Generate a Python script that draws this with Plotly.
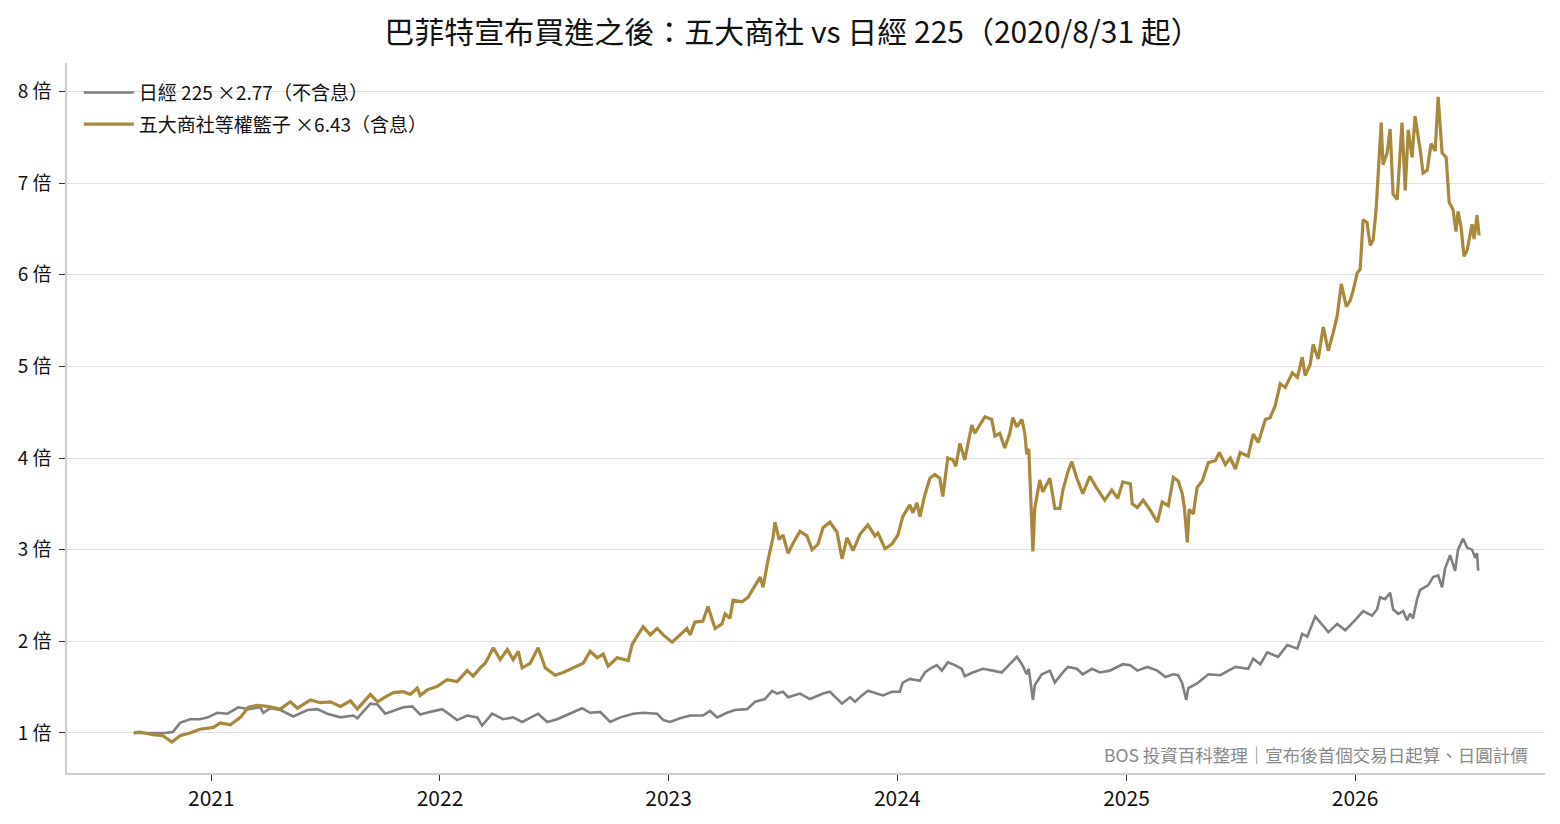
import pandas as pd
import plotly.graph_objects as go

# ---- data (decimal years) ----
nikkei_t = [2020.663, 2020.733, 2020.799, 2020.834, 2020.865, 2020.908, 2020.952, 2020.987,
            2021.026, 2021.070, 2021.118, 2021.162, 2021.214, 2021.227, 2021.258, 2021.302,
            2021.358, 2021.420, 2021.463, 2021.507, 2021.564, 2021.621, 2021.638, 2021.695,
            2021.726, 2021.760, 2021.795, 2021.839, 2021.878, 2021.913, 2021.957, 2022.010,
            2022.075, 2022.119, 2022.163, 2022.184, 2022.228, 2022.276, 2022.320, 2022.359,
            2022.429, 2022.469, 2022.512, 2022.556, 2022.621, 2022.656, 2022.700, 2022.744,
            2022.788, 2022.844, 2022.888, 2022.949, 2022.976, 2023.006, 2023.050, 2023.094,
            2023.150, 2023.181, 2023.212, 2023.255, 2023.290, 2023.343, 2023.378, 2023.421,
            2023.452, 2023.474, 2023.500, 2023.522, 2023.574, 2023.618, 2023.675, 2023.705,
            2023.758, 2023.793, 2023.815, 2023.845, 2023.871, 2023.937, 2023.976, 2024.011,
            2024.024, 2024.055, 2024.099, 2024.121, 2024.143, 2024.173, 2024.195, 2024.221,
            2024.252, 2024.282, 2024.295, 2024.330, 2024.374, 2024.418, 2024.457, 2024.492,
            2024.523, 2024.545, 2024.566, 2024.575, 2024.593, 2024.601, 2024.632, 2024.667,
            2024.689, 2024.724, 2024.746, 2024.785, 2024.811, 2024.851, 2024.886, 2024.929,
            2024.960, 2024.986, 2025.017, 2025.047, 2025.091, 2025.135, 2025.170, 2025.205,
            2025.226, 2025.244, 2025.261, 2025.270, 2025.309, 2025.358, 2025.410, 2025.476,
            2025.532, 2025.554, 2025.585, 2025.615, 2025.663, 2025.703, 2025.747, 2025.768,
            2025.790, 2025.825, 2025.856, 2025.882, 2025.921, 2025.956, 2026.000, 2026.035,
            2026.074, 2026.096, 2026.109, 2026.131, 2026.153, 2026.166, 2026.188, 2026.210,
            2026.227, 2026.240, 2026.253, 2026.271, 2026.284, 2026.306, 2026.319, 2026.341,
            2026.363, 2026.380, 2026.393, 2026.415, 2026.437, 2026.450, 2026.472, 2026.490,
            2026.511, 2026.525, 2026.533, 2026.538]
nikkei_v = [1.00, 1.00, 1.00, 1.01, 1.11, 1.15, 1.15, 1.17,
            1.22, 1.21, 1.28, 1.26, 1.28, 1.22, 1.27, 1.25,
            1.18, 1.25, 1.26, 1.21, 1.17, 1.19, 1.16, 1.32,
            1.31, 1.21, 1.24, 1.28, 1.29, 1.20, 1.23, 1.26,
            1.14, 1.19, 1.17, 1.08, 1.21, 1.15, 1.17, 1.12,
            1.21, 1.12, 1.15, 1.20, 1.27, 1.22, 1.23, 1.12,
            1.17, 1.21, 1.22, 1.21, 1.14, 1.12, 1.16, 1.19,
            1.19, 1.24, 1.17, 1.22, 1.25, 1.26, 1.34, 1.37,
            1.46, 1.43, 1.45, 1.39, 1.43, 1.37, 1.43, 1.45,
            1.32, 1.39, 1.34, 1.41, 1.46, 1.41, 1.45, 1.45,
            1.55, 1.59, 1.57, 1.66, 1.70, 1.74, 1.68, 1.77,
            1.74, 1.70, 1.62, 1.66, 1.70, 1.68, 1.66, 1.75,
            1.83, 1.75, 1.64, 1.70, 1.36, 1.52, 1.64, 1.68,
            1.55, 1.66, 1.72, 1.70, 1.64, 1.70, 1.66, 1.68,
            1.72, 1.75, 1.74, 1.68, 1.72, 1.68, 1.61, 1.64,
            1.63, 1.54, 1.36, 1.49, 1.54, 1.64, 1.63, 1.72,
            1.70, 1.81, 1.75, 1.88, 1.83, 1.96, 1.92, 2.08,
            2.05, 2.27, 2.18, 2.10, 2.19, 2.12, 2.23, 2.33,
            2.28, 2.35, 2.48, 2.46, 2.53, 2.35, 2.30, 2.33,
            2.23, 2.30, 2.25, 2.46, 2.56, 2.59, 2.61, 2.70,
            2.72, 2.59, 2.79, 2.94, 2.77, 3.00, 3.12, 3.02,
            3.00, 2.91, 2.96, 2.77]

basket_t = [2020.663, 2020.690, 2020.747, 2020.790, 2020.830, 2020.865, 2020.908, 2020.952,
            2021.009, 2021.039, 2021.083, 2021.127, 2021.162, 2021.201, 2021.245, 2021.302,
            2021.345, 2021.376, 2021.433, 2021.476, 2021.520, 2021.564, 2021.608, 2021.638,
            2021.695, 2021.726, 2021.752, 2021.795, 2021.839, 2021.870, 2021.900, 2021.913,
            2021.944, 2021.988, 2022.031, 2022.075, 2022.119, 2022.145, 2022.176, 2022.198,
            2022.233, 2022.263, 2022.294, 2022.320, 2022.342, 2022.359, 2022.394, 2022.429,
            2022.460, 2022.503, 2022.538, 2022.582, 2022.626, 2022.656, 2022.687, 2022.713,
            2022.735, 2022.774, 2022.801, 2022.823, 2022.840, 2022.862, 2022.888, 2022.919,
            2022.949, 2022.976, 2023.015, 2023.050, 2023.080, 2023.094, 2023.115, 2023.150,
            2023.172, 2023.203, 2023.233, 2023.247, 2023.268, 2023.282, 2023.321, 2023.347,
            2023.369, 2023.400, 2023.413, 2023.434, 2023.456, 2023.465, 2023.483, 2023.500,
            2023.522, 2023.544, 2023.574, 2023.605, 2023.627, 2023.653, 2023.675, 2023.705,
            2023.736, 2023.758, 2023.780, 2023.806, 2023.837, 2023.871, 2023.902, 2023.915,
            2023.946, 2023.976, 2024.003, 2024.024, 2024.055, 2024.068, 2024.086, 2024.099,
            2024.121, 2024.143, 2024.164, 2024.186, 2024.199, 2024.221, 2024.243, 2024.256,
            2024.274, 2024.295, 2024.326, 2024.339, 2024.361, 2024.383, 2024.413, 2024.427,
            2024.448, 2024.470, 2024.492, 2024.505, 2024.523, 2024.545, 2024.558, 2024.566,
            2024.575, 2024.593, 2024.601, 2024.623, 2024.636, 2024.667, 2024.689, 2024.711,
            2024.724, 2024.746, 2024.763, 2024.785, 2024.811, 2024.842, 2024.872, 2024.907,
            2024.938, 2024.964, 2024.986, 2025.017, 2025.025, 2025.047, 2025.073, 2025.104,
            2025.135, 2025.156, 2025.183, 2025.205, 2025.226, 2025.244, 2025.253, 2025.266,
            2025.274, 2025.292, 2025.309, 2025.331, 2025.358, 2025.388, 2025.406, 2025.432,
            2025.454, 2025.476, 2025.497, 2025.532, 2025.554, 2025.576, 2025.607, 2025.628,
            2025.650, 2025.672, 2025.694, 2025.725, 2025.747, 2025.768, 2025.781, 2025.803,
            2025.816, 2025.838, 2025.860, 2025.882, 2025.904, 2025.921, 2025.939, 2025.961,
            2025.978, 2025.991, 2026.009, 2026.022, 2026.035, 2026.052, 2026.066, 2026.079,
            2026.092, 2026.114, 2026.122, 2026.140, 2026.153, 2026.166, 2026.184, 2026.192,
            2026.205, 2026.219, 2026.232, 2026.249, 2026.262, 2026.284, 2026.297, 2026.315,
            2026.332, 2026.350, 2026.363, 2026.380, 2026.398, 2026.411, 2026.428, 2026.441,
            2026.450, 2026.463, 2026.476, 2026.490, 2026.511, 2026.520, 2026.533, 2026.542]
basket_v = [1.00, 1.01, 0.98, 0.97, 0.90, 0.97, 1.00, 1.04,
            1.06, 1.11, 1.09, 1.17, 1.28, 1.30, 1.29, 1.26,
            1.34, 1.27, 1.36, 1.33, 1.34, 1.29, 1.35, 1.26,
            1.42, 1.34, 1.38, 1.44, 1.45, 1.42, 1.49, 1.41,
            1.47, 1.51, 1.58, 1.56, 1.68, 1.62, 1.71, 1.76,
            1.93, 1.80, 1.91, 1.80, 1.89, 1.71, 1.76, 1.93,
            1.71, 1.63, 1.66, 1.71, 1.76, 1.89, 1.82, 1.86,
            1.73, 1.82, 1.80, 1.79, 1.97, 2.05, 2.16, 2.07,
            2.14, 2.07, 1.99, 2.07, 2.14, 2.07, 2.21, 2.22,
            2.38, 2.14, 2.19, 2.30, 2.25, 2.45, 2.43, 2.48,
            2.57, 2.70, 2.59, 2.88, 3.13, 3.30, 3.11, 3.16,
            2.96, 3.07, 3.20, 3.15, 3.00, 3.06, 3.24, 3.30,
            3.19, 2.90, 3.13, 2.99, 3.17, 3.27, 3.15, 3.18,
            3.01, 3.06, 3.16, 3.36, 3.49, 3.40, 3.51, 3.36,
            3.60, 3.78, 3.82, 3.78, 3.58, 4.00, 3.98, 3.91,
            4.16, 3.98, 4.36, 4.27, 4.36, 4.45, 4.42, 4.24,
            4.27, 4.11, 4.27, 4.44, 4.34, 4.42, 4.26, 4.04,
            4.10, 2.98, 3.45, 3.76, 3.63, 3.78, 3.45, 3.45,
            3.65, 3.85, 3.96, 3.78, 3.61, 3.80, 3.67, 3.54,
            3.65, 3.56, 3.74, 3.72, 3.50, 3.46, 3.54, 3.43,
            3.30, 3.52, 3.48, 3.79, 3.75, 3.61, 3.46, 3.08,
            3.44, 3.39, 3.68, 3.75, 3.95, 3.97, 4.06, 3.93,
            4.00, 3.88, 4.06, 4.02, 4.26, 4.17, 4.42, 4.44,
            4.57, 4.81, 4.77, 4.93, 4.88, 5.10, 4.90, 5.02,
            5.24, 5.08, 5.43, 5.17, 5.37, 5.55, 5.90, 5.65,
            5.72, 5.83, 6.02, 6.06, 6.60, 6.57, 6.32, 6.38,
            6.72, 7.66, 7.20, 7.33, 7.59, 6.88, 6.82, 7.14,
            7.66, 6.92, 7.58, 7.28, 7.73, 7.37, 7.11, 7.14,
            7.43, 7.35, 7.94, 7.33, 7.28, 6.79, 6.71, 6.47,
            6.69, 6.52, 6.20, 6.27, 6.55, 6.39, 6.65, 6.43]

year_ticks = [2021, 2022, 2023, 2024, 2025, 2026]
y_ticks = [1, 2, 3, 4, 5, 6, 7, 8]
y_ticktext = [f"{v} 倍" for v in y_ticks]

title_text = "巴菲特宣布買進之後：五大商社 vs 日經 225（2020/8/31 起）"
nikkei_name = "日經 225 ×2.77（不含息）"
basket_name = "五大商社等權籃子 ×6.43（含息）"
note_text = "BOS 投資百科整理｜宣布後首個交易日起算、日圓計價"


def to_date(y):
    yi = int(y)
    return pd.Timestamp(year=yi, month=1, day=1) + pd.Timedelta(days=(y - yi) * 365.25)


FONT = "Noto Sans CJK TC, Noto Sans, sans-serif"

fig = go.Figure()
fig.add_trace(go.Scatter(x=[to_date(t) for t in nikkei_t], y=nikkei_v, mode="lines",
                         name=nikkei_name, legendgroup="a",
                         line=dict(color="#7f7f7f", width=2.6)))
fig.add_trace(go.Scatter(x=[to_date(t) for t in basket_t], y=basket_v, mode="lines",
                         name=basket_name, legendgroup="b",
                         line=dict(color="#a8893b", width=3.2)))

fig.update_layout(
    width=1560, height=824,
    margin=dict(l=67, r=15, t=63, b=51),
    paper_bgcolor="white", plot_bgcolor="white",
    font=dict(family=FONT, color="#111", size=17),
    title=dict(text=title_text, x=0.508, xanchor="center", y=0.961, yanchor="middle",
               font=dict(size=30, color="#111", family=FONT)),
    showlegend=True,
    legend=dict(x=0.008, y=0.985, xanchor="left", yanchor="top", bgcolor="rgba(0,0,0,0)",
                font=dict(size=19, family=FONT, color="#111"), itemwidth=50,
                traceorder="grouped", tracegroupgap=4),
    xaxis=dict(range=[to_date(2020.371), to_date(2026.83)],
               tickvals=[pd.Timestamp(year=y, month=1, day=1) for y in year_ticks],
               ticktext=[str(y) for y in year_ticks],
               showgrid=False, zeroline=False,
               showline=True, linecolor="#cccccc", linewidth=1.5,
               ticks="outside", ticklen=6, tickcolor="#333", tickwidth=1.2,
               tickfont=dict(size=21, family=FONT, color="#111")),
    yaxis=dict(range=[0.563, 8.31], tickvals=y_ticks, ticktext=y_ticktext,
               showgrid=True, gridcolor="#e0e0e0", gridwidth=1, zeroline=False,
               showline=True, linecolor="#cccccc", linewidth=1.5,
               ticks="outside", ticklen=6, tickcolor="#333", tickwidth=1.2,
               ticklabelstandoff=4,
               tickfont=dict(size=19, family=FONT, color="#111")),
    annotations=[dict(text=note_text, xref="paper", yref="paper", x=0.99, y=0.005,
                      xanchor="right", yanchor="bottom", showarrow=False,
                      font=dict(size=17.5, color="#888888", family=FONT))],
)

fig.write_html("out.html")
